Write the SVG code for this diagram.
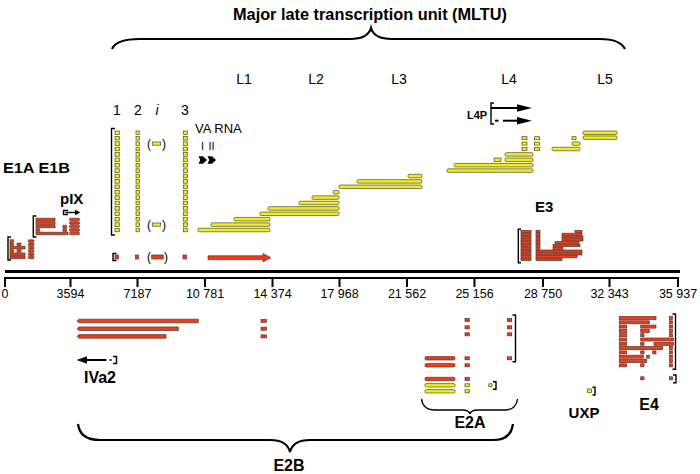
<svg xmlns="http://www.w3.org/2000/svg" width="700" height="474" viewBox="0 0 700 474">
<style>
.t{font-family:"Liberation Sans",Arial,sans-serif;fill:#000}
.b{font-weight:bold}
.y{fill:#f4ee18;stroke:#4a4a30;stroke-width:0.7}
.r{fill:#f03c18;stroke:#5a3028;stroke-width:0.7}
.k{fill:none;stroke:#000;stroke-width:1.4}
.br{fill:none;stroke:#000;stroke-width:2.2}
.ax{stroke:#000;fill:none}
</style>
<defs>
<g id="leader"><rect class="y" x="115" y="-1.8" width="4.3" height="3.6"/><rect class="y" x="136" y="-1.8" width="3.3" height="3.6"/><rect class="y" x="183.3" y="-1.8" width="4" height="3.6"/></g>
</defs>
<rect width="700" height="474" fill="#fff"/>

<g id="mltu">
<text class="t b" x="370" y="20" font-size="16" text-anchor="middle" textLength="274" lengthAdjust="spacingAndGlyphs">Major late transcription unit (MLTU)</text>
<text class="t" x="244" y="84" font-size="14" text-anchor="middle">L1</text>
<text class="t" x="316" y="84" font-size="14" text-anchor="middle">L2</text>
<text class="t" x="399" y="84" font-size="14" text-anchor="middle">L3</text>
<text class="t" x="509" y="84" font-size="14" text-anchor="middle">L4</text>
<text class="t" x="605" y="84" font-size="14" text-anchor="middle">L5</text>
</g>

<g id="leaders">
<text class="t" x="117" y="115" font-size="14" text-anchor="middle">1</text>
<text class="t" x="138" y="115" font-size="14" text-anchor="middle">2</text>
<text class="t" x="157" y="115" font-size="14" text-anchor="middle" font-style="italic">i</text>
<text class="t" x="185" y="115" font-size="14" text-anchor="middle">3</text>
<path class="k" d="M115,128.5 H111.5 V235 H115"/>
<use href="#leader" y="230"/><use href="#leader" y="224.6"/><use href="#leader" y="219.2"/><use href="#leader" y="213.8"/><use href="#leader" y="208.4"/><use href="#leader" y="203"/><use href="#leader" y="197.6"/><use href="#leader" y="192.2"/><use href="#leader" y="186.8"/><use href="#leader" y="181.4"/><use href="#leader" y="176"/><use href="#leader" y="170.6"/><use href="#leader" y="165.2"/><use href="#leader" y="159.8"/><use href="#leader" y="154.4"/><use href="#leader" y="149"/><use href="#leader" y="143.6"/><use href="#leader" y="138.2"/><use href="#leader" y="132.8"/>
<text class="t" x="149" y="148" font-size="12" text-anchor="middle">(</text>
<rect class="y" x="152.3" y="142" width="8.4" height="3.2"/>
<text class="t" x="164" y="148" font-size="12" text-anchor="middle">)</text>
<text class="t" x="149" y="229" font-size="12" text-anchor="middle">(</text>
<rect class="y" x="152.3" y="223" width="8.4" height="3.2"/>
<text class="t" x="164" y="229" font-size="12" text-anchor="middle">)</text>
<path class="k" d="M116.5,253.5 H113 V260.5 H116.5" stroke-width="2"/>
<rect class="r" x="115" y="255" width="3.5" height="4"/>
<rect class="r" x="135.5" y="255" width="3" height="4"/>
<text class="t" x="149" y="261" font-size="12" text-anchor="middle">(</text>
<rect class="r" x="151.7" y="255" width="11.5" height="4"/>
<text class="t" x="166" y="261" font-size="12" text-anchor="middle">)</text>
<rect class="r" x="183" y="255" width="3.5" height="4"/>
<path class="r" d="M208,255.8 H263 V253.5 L271,257.7 L263,261.9 V259.6 H208 Z"/>
</g>

<g id="va-rna">
<text class="t" x="195" y="133" font-size="13">VA RNA</text>
<text class="t" x="201" y="150" font-size="11">I</text>
<text class="t" x="208.5" y="150" font-size="11">II</text>
<polygon points="198.5,156.3 203,156.3 207,160 203,163.7 198.5,163.7 200.3,160" fill="#000"/>
<polygon points="207.5,156.3 212,156.3 216,160 212,163.7 207.5,163.7 209.3,160" fill="#000"/>
</g>

<g id="late-transcripts">
<rect class="y" x="198" y="228.25" width="72" height="3.5" rx="1.2"/>
<rect class="y" x="211" y="222.85" width="59" height="3.5" rx="1.2"/>
<rect class="y" x="234" y="217.45" width="36" height="3.5" rx="1.2"/>
<rect class="y" x="260" y="212.05" width="79" height="3.5" rx="1.2"/>
<rect class="y" x="268" y="206.65" width="71" height="3.5" rx="1.2"/>
<rect class="y" x="299" y="201.25" width="40" height="3.5" rx="1.2"/>
<rect class="y" x="312" y="195.85" width="27" height="3.5" rx="1.2"/>
<rect class="y" x="333" y="190.45" width="6" height="3.5" rx="1.2"/>
<rect class="y" x="339" y="185.05" width="83" height="3.5" rx="1.2"/>
<rect class="y" x="357" y="179.65" width="65" height="3.5" rx="1.2"/>
<rect class="y" x="408" y="174.25" width="14" height="3.5" rx="1.2"/>
<rect class="y" x="447" y="168.85" width="86" height="3.5" rx="1.2"/>
<rect class="y" x="454" y="163.45" width="79" height="3.5" rx="1.2"/>
<rect class="y" x="494" y="158.05" width="7" height="3.5"/>
<rect class="y" x="505" y="158.05" width="28" height="3.5" rx="1.2"/>
<rect class="y" x="505" y="152.65" width="28" height="3.5" rx="1.2"/>
<rect class="y" x="522" y="147.5" width="5" height="3"/><rect class="y" x="534.5" y="147.5" width="5" height="3"/>
<rect class="y" x="522" y="142.1" width="5" height="3"/><rect class="y" x="534.5" y="142.1" width="5" height="3"/>
<rect class="y" x="522" y="136.7" width="5" height="3"/><rect class="y" x="534.5" y="136.7" width="5" height="3"/>
<rect class="y" x="552" y="147.25" width="28" height="3.5" rx="1.2"/>
<rect class="y" x="572" y="141.85" width="8" height="3.5" rx="1.2"/>
<rect class="y" x="572" y="136.7" width="4" height="3"/>
<rect class="y" x="583" y="135.95" width="34" height="3.5" rx="1.2"/>
<rect class="y" x="583" y="131.05" width="34" height="3.5" rx="1.2"/>
</g>

<g id="L4P">
<text class="t b" x="467" y="119" font-size="11">L4P</text>
<path class="k" d="M494,103 H491 V124 H494"/>
<line class="ax" x1="491" y1="108" x2="519" y2="108" stroke-width="2"/>
<polygon points="517,104.3 532,108 517,111.7" fill="#000"/>
<line class="ax" x1="495" y1="120.7" x2="498.5" y2="120.7" stroke-width="2"/>
<line class="ax" x1="503" y1="120.7" x2="519" y2="120.7" stroke-width="2"/>
<polygon points="517,117 532,120.7 517,124.4" fill="#000"/>
</g>

<g id="E1A-E1B">
<text class="t b" x="3" y="172.5" font-size="14" textLength="67" lengthAdjust="spacingAndGlyphs">E1A E1B</text>
</g>
<g id="pIX">
<text class="t b" x="60" y="204" font-size="15">pIX</text>
<path class="k" d="M68,210.5 H63.5 V214.5 H68" stroke-width="1"/>
<line class="ax" x1="65.5" y1="212.5" x2="76" y2="212.5" stroke-width="1.4"/>
<polygon points="75,209.8 80.5,212.5 75,215.2" fill="#000"/>
</g>
<g id="E1B">
<path class="k" d="M36.5,216 H33.3 V237 H36.5"/>
<rect class="r" x="36" y="218.2" width="19" height="2.6"/>
<rect class="r" x="36" y="221.7" width="19" height="2.6"/>
<rect class="r" x="36" y="225.2" width="19" height="2.6"/>
<rect class="r" x="36" y="228.7" width="3.5" height="2.6"/>
<rect class="r" x="36" y="232.2" width="32" height="2.6"/>
<rect class="r" x="63" y="225.2" width="3.5" height="2.6"/>
<rect class="r" x="63" y="228.7" width="3.5" height="2.6"/>
<rect class="r" x="69.5" y="218.2" width="10" height="2.6" rx="1"/>
<rect class="r" x="69.5" y="221.7" width="10" height="2.6" rx="1"/>
<rect class="r" x="69.5" y="225.2" width="10" height="2.6" rx="1"/>
<rect class="r" x="69.5" y="228.7" width="10" height="2.6" rx="1"/>
<rect class="r" x="69.5" y="232.2" width="10" height="2.6" rx="1"/>
</g>
<g id="E1A">
<path class="k" d="M11,237 H8 V260 H11"/>
<rect class="r" x="10" y="239.8" width="3.5" height="2.5"/>
<rect class="r" x="10" y="243.1" width="3.5" height="2.5"/><rect class="r" x="17" y="243.1" width="4" height="2.5"/>
<rect class="r" x="10" y="246.4" width="15" height="2.5"/>
<rect class="r" x="10" y="249.7" width="3.5" height="2.5"/><rect class="r" x="17" y="249.7" width="4" height="2.5"/>
<rect class="r" x="10" y="253" width="15" height="2.5"/>
<rect class="r" x="10" y="256.3" width="15" height="2.5"/>
<rect class="r" x="28.3" y="239.8" width="5.7" height="2.5" rx="1"/>
<rect class="r" x="28.3" y="243.1" width="5.7" height="2.5" rx="1"/>
<rect class="r" x="28.3" y="246.4" width="5.7" height="2.5" rx="1"/>
<rect class="r" x="28.3" y="249.7" width="5.7" height="2.5" rx="1"/>
<rect class="r" x="28.3" y="253" width="5.7" height="2.5" rx="1"/>
<rect class="r" x="28.3" y="256.3" width="5.7" height="2.5" rx="1"/>
</g>

<g id="E3">
<text class="t b" x="535" y="212" font-size="15">E3</text>
<path class="k" d="M521,229.3 H518.3 V262.7 H521"/>
<rect class="r" x="521" y="230.4" width="10" height="2.2"/><rect class="r" x="536" y="230.4" width="4" height="2.2"/><rect class="r" x="575" y="230.4" width="7" height="2.2"/>
<rect class="r" x="521" y="233.2" width="10" height="2.2"/><rect class="r" x="536" y="233.2" width="4" height="2.2"/><rect class="r" x="562" y="233.2" width="20" height="2.2"/>
<rect class="r" x="521" y="236" width="10" height="2.2"/><rect class="r" x="536" y="236" width="4" height="2.2"/><rect class="r" x="562" y="236" width="21" height="2.2"/>
<rect class="r" x="521" y="238.8" width="10" height="2.2"/><rect class="r" x="536" y="238.8" width="4" height="2.2"/><rect class="r" x="562" y="238.8" width="21" height="2.2"/>
<rect class="r" x="521" y="241.6" width="10" height="2.2"/><rect class="r" x="536" y="241.6" width="4" height="2.2"/><rect class="r" x="555" y="241.6" width="24" height="2.2"/>
<rect class="r" x="521" y="244.4" width="10" height="2.2"/><rect class="r" x="536" y="244.4" width="4" height="2.2"/><rect class="r" x="553" y="244.4" width="27" height="2.2"/>
<rect class="r" x="521" y="247.2" width="10" height="2.2"/><rect class="r" x="536" y="247.2" width="4" height="2.2"/><rect class="r" x="553" y="247.2" width="10" height="2.2"/>
<rect class="r" x="521" y="250" width="10" height="2.2"/><rect class="r" x="536" y="250" width="46" height="2.2"/>
<rect class="r" x="521" y="252.8" width="10" height="2.2"/><rect class="r" x="536" y="252.8" width="46" height="2.2"/>
<rect class="r" x="521" y="255.6" width="10" height="2.2"/><rect class="r" x="536" y="255.6" width="41" height="2.2"/>
<rect class="r" x="521" y="258.4" width="10" height="2.2"/><rect class="r" x="536" y="258.4" width="26" height="2.2"/>
</g>

<g id="axis">
<line class="ax" x1="5" y1="271.5" x2="680" y2="271.5" stroke-width="3"/>
<line class="ax" x1="4" y1="278" x2="679" y2="278" stroke-width="2"/>
<path class="ax" stroke-width="2" d="M5,278V287 M70.5,278V287 M137.5,278V287 M205,278V287 M272.5,278V287 M339.5,278V287 M407,278V287 M474.5,278V287 M543,278V287 M609.5,278V287 M678,278V287"/>
<g class="t" font-size="12.5" text-anchor="middle">
<text x="5" y="298">0</text>
<text x="70.5" y="298">3594</text>
<text x="137.5" y="298">7187</text>
<text x="205" y="298">10 781</text>
<text x="272.5" y="298">14 374</text>
<text x="339.5" y="298">17 968</text>
<text x="407" y="298">21 562</text>
<text x="474.5" y="298">25 156</text>
<text x="543" y="298">28 750</text>
<text x="609.5" y="298">32 343</text>
<text x="678" y="298">35 937</text>
</g>
</g>

<g id="E2B">
<path class="r" d="M77,321 L79,319.2 H198.3 V322.8 H79 Z"/>
<path class="r" d="M77,328.7 L79,326.9 H178.3 V330.5 H79 Z"/>
<path class="r" d="M77,336.4 L79,334.6 H166 V338.2 H79 Z"/>
<rect class="r" x="261" y="319.5" width="5.5" height="3"/>
<rect class="r" x="261" y="327.2" width="5.5" height="3"/>
<rect class="r" x="261" y="334.9" width="5.5" height="3"/>
<text class="t b" x="289" y="471" font-size="16" text-anchor="middle">E2B</text>
</g>

<g id="IVa2">
<line class="ax" x1="84" y1="360" x2="106.5" y2="360" stroke-width="2"/>
<polygon points="76.7,360 87,356.3 87,363.7" fill="#000"/>
<line class="ax" x1="109" y1="360" x2="112" y2="360" stroke-width="1.2"/>
<path class="k" d="M113,356.5 H116.5 V363.5 H113" stroke-width="1.2"/>
<text class="t b" x="100" y="383" font-size="16" text-anchor="middle">IVa2</text>
</g>

<g id="E2A">
<rect class="r" x="465" y="318.5" width="4.3" height="3"/>
<rect class="r" x="465" y="325.8" width="4.3" height="3"/>
<rect class="r" x="465" y="332.8" width="4.3" height="3"/>
<rect class="r" x="465" y="356.8" width="4.3" height="3"/>
<rect class="r" x="465" y="363.8" width="4.3" height="3"/>
<rect class="r" x="465" y="377.5" width="4.3" height="3"/>
<rect class="y" x="465" y="383.8" width="4.3" height="3"/>
<rect class="y" x="465" y="389.8" width="4.3" height="3"/>
<rect class="r" x="507.3" y="318.5" width="4.4" height="3"/>
<rect class="r" x="507.3" y="325.8" width="4.4" height="3"/>
<rect class="r" x="507.3" y="332.8" width="4.4" height="3"/>
<rect class="r" x="507.3" y="356.8" width="4.4" height="3"/>
<path class="k" d="M512.5,315 H515.5 V361.7 H512.5"/>
<rect class="r" x="425" y="356.6" width="30" height="3.4" rx="1.2"/>
<rect class="r" x="425" y="363.6" width="30" height="3.4" rx="1.2"/>
<rect class="r" x="425" y="377.3" width="30" height="3.4" rx="1.2"/>
<rect class="y" x="425" y="383.6" width="30" height="3.4" rx="1.2"/>
<rect class="y" x="425" y="389.6" width="30" height="3.4" rx="1.2"/>
<rect class="y" x="488.8" y="383.8" width="3.2" height="3"/>
<path class="k" d="M493,381.7 H496 V389.3 H493" stroke-width="1.2"/>
<text class="t b" x="470" y="428" font-size="16" text-anchor="middle">E2A</text>
</g>

<g id="UXP">
<rect class="y" x="587.5" y="389" width="4" height="3.5"/>
<path class="k" d="M592.5,387.3 H595 V395 H592.5" stroke-width="1.2"/>
<text class="t b" x="584" y="418" font-size="15" text-anchor="middle">UXP</text>
</g>

<g id="E4">
<rect class="r" x="619.3" y="316.5" width="36.7" height="3"/>
<rect class="r" x="619.3" y="320.8" width="30" height="3"/>
<rect class="r" x="619.3" y="325.1" width="7.4" height="3"/><rect class="r" x="640.7" y="325.1" width="15.3" height="3"/>
<rect class="r" x="619.3" y="329.4" width="7.4" height="3"/><rect class="r" x="640.7" y="329.4" width="8.6" height="3"/>
<rect class="r" x="619.3" y="333.7" width="7.4" height="3"/><rect class="r" x="640.7" y="333.7" width="3.3" height="3"/>
<rect class="r" x="619.3" y="338" width="7.4" height="3"/><rect class="r" x="640.7" y="338" width="32.6" height="3"/>
<rect class="r" x="619.3" y="342.3" width="7.4" height="3"/><rect class="r" x="640.7" y="342.3" width="3.3" height="3"/><rect class="r" x="654" y="342.3" width="19.3" height="3"/>
<rect class="r" x="619.3" y="346.6" width="43.4" height="3"/>
<rect class="r" x="619.3" y="350.9" width="7.4" height="3"/><rect class="r" x="640.7" y="350.9" width="3.3" height="3"/><rect class="r" x="652.7" y="350.9" width="3.3" height="3"/>
<rect class="r" x="619.3" y="355.2" width="24" height="3"/><rect class="r" x="646.7" y="355.2" width="2.6" height="3"/>
<rect class="r" x="619.3" y="359.5" width="27.4" height="3"/>
<rect class="r" x="619.3" y="363.8" width="7.4" height="3"/><rect class="r" x="640.7" y="363.8" width="3.3" height="3"/>
<rect class="r" x="669.5" y="316.5" width="3" height="3"/><rect class="r" x="669.5" y="320.8" width="3" height="3"/><rect class="r" x="669.5" y="325.1" width="3" height="3"/><rect class="r" x="669.5" y="329.4" width="3" height="3"/><rect class="r" x="669.5" y="333.7" width="3" height="3"/><rect class="r" x="669.5" y="346.6" width="3" height="3"/><rect class="r" x="669.5" y="350.9" width="3" height="3"/><rect class="r" x="669.5" y="355.2" width="3" height="3"/><rect class="r" x="669.5" y="359.5" width="3" height="3"/><rect class="r" x="669.5" y="363.8" width="3" height="3"/>
<path class="k" d="M672.5,314 H675.5 V369.3 H672.5"/>
<rect class="r" x="640.7" y="376.8" width="3.3" height="3"/>
<rect class="r" x="669.5" y="376.8" width="3" height="3"/>
<path class="k" d="M673,375 H676 V382.7 H673" stroke-width="1.2"/>
<text class="t b" x="649" y="410" font-size="16" text-anchor="middle">E4</text>
</g>

<g id="connectors">
<path class="br" d="M112,49 Q116,39 140,39 H350 Q368,39 371,28 Q374,39 392,39 H600 Q620,39 625,49"/>
<path class="br" d="M78,424 Q80,440 100,440 H270 Q287,440 290,452 Q293,440 310,440 H493 Q511,440 513,424"/>
<path class="k" d="M421.5,399 Q423,410 435,410 H462 Q469,410 470,414 Q471,410 478,410 H505 Q516,410 517.5,399" stroke-width="1.6"/>
</g>
</svg>
